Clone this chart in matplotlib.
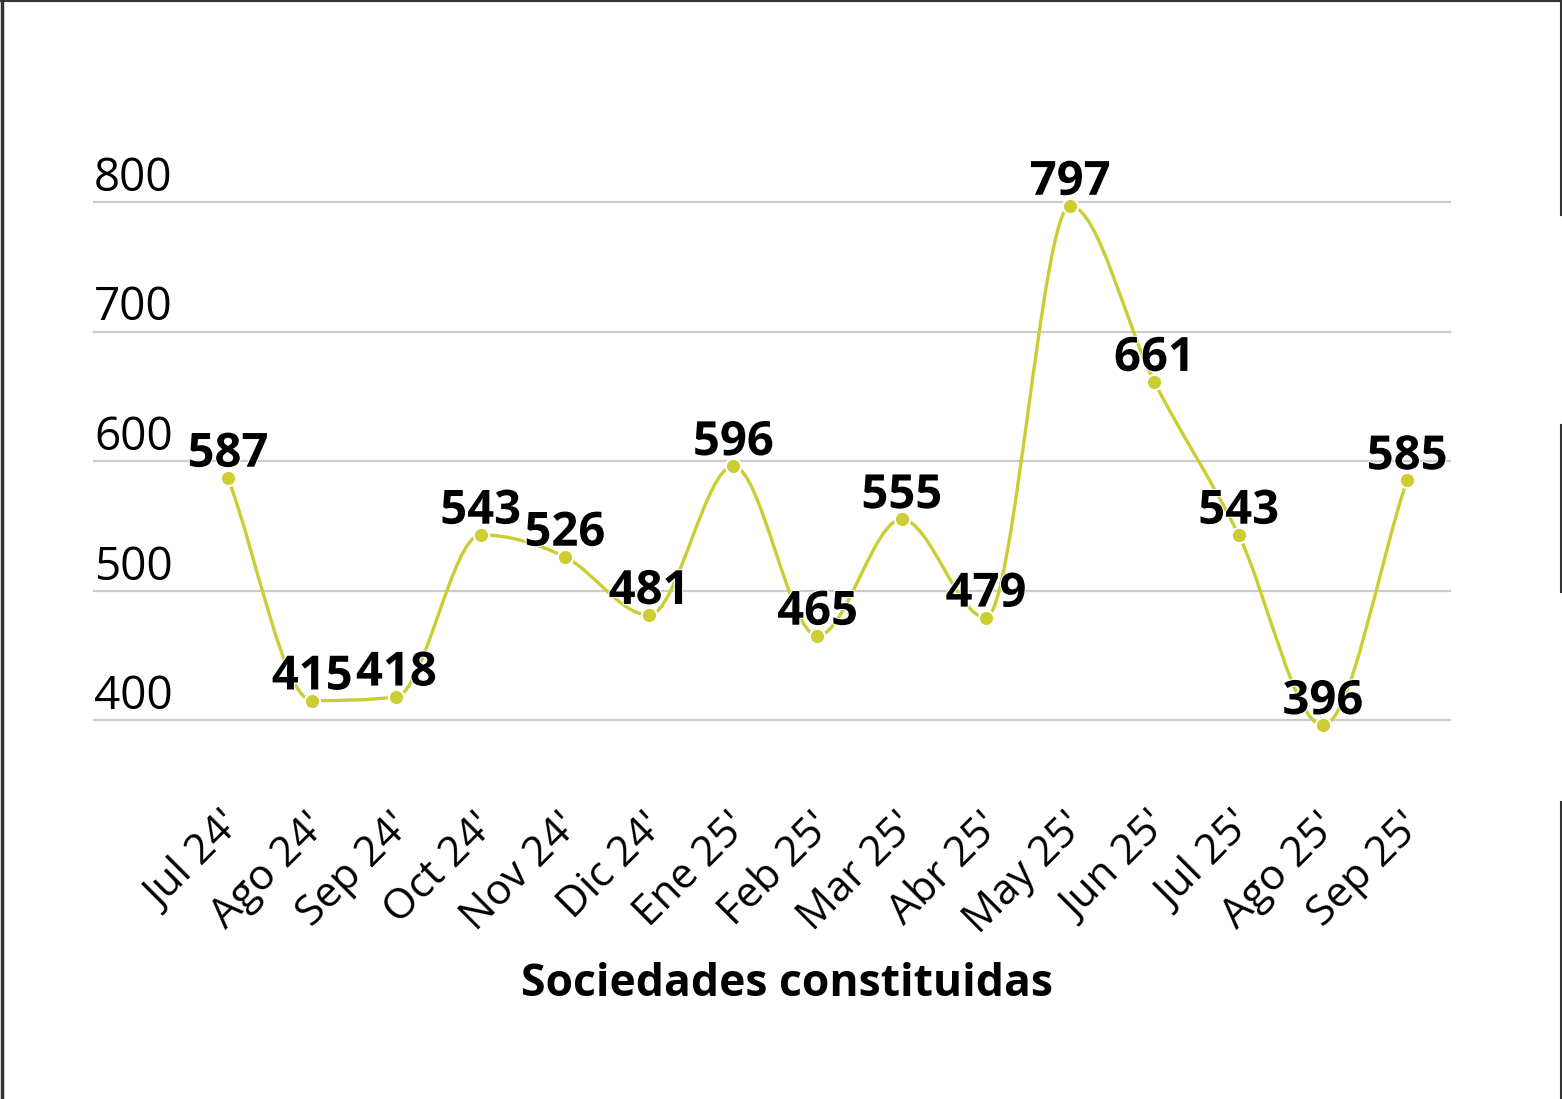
import matplotlib
matplotlib.use("Agg")
import matplotlib.pyplot as plt
import numpy as np
from matplotlib.path import Path
from matplotlib.patches import PathPatch
from matplotlib.lines import Line2D
import matplotlib.transforms as mtransforms
import matplotlib.patheffects as pe

months = ["Jul 24'", "Ago 24'", "Sep 24'", "Oct 24'", "Nov 24'", "Dic 24'",
          "Ene 25'", "Feb 25'", "Mar 25'", "Abr 25'", "May 25'", "Jun 25'",
          "Jul 25'", "Ago 25'", "Sep 25'"]
values = [587, 415, 418, 543, 526, 481, 596, 465, 555, 479, 797, 661, 543, 396, 585]
yticks = [400, 500, 600, 700, 800]
xlabel = "Sociedades constituidas"

LINE = "#cccc33"
FONT = "Open Sans"

W, H = 1562, 1099
fig = plt.figure(figsize=(W / 100, H / 100), dpi=100)
fig.patch.set_facecolor("white")

left, right, top, bottom = 94, 1450, 202, 720
ax = fig.add_axes([left / W, 1 - bottom / H, (right - left) / W, (bottom - top) / H])
ax.set_ylim(400, 800)
ax.set_xlim(-1.59, 14.51)
for s in ax.spines.values():
    s.set_visible(False)
ax.set_yticks([])
ax.tick_params(axis="x", length=0, pad=0)

# gridlines
for yv in yticks:
    ax.axhline(yv, color="#cccccc", lw=1.6, zorder=1, clip_on=False)

# y labels above gridlines, left aligned
ytrans = mtransforms.blended_transform_factory(ax.transAxes, ax.transData)
yoff = mtransforms.offset_copy(ytrans, fig=fig, x=0, y=11, units="dots")
for yv in yticks:
    ax.text(0.0, yv, str(yv), transform=yoff, ha="left", va="baseline",
            fontsize=33, family=FONT, color="black")

# smooth monotone cubic line
x = np.arange(len(values), dtype=float)
y = np.array(values, dtype=float)
n = len(x)
d = np.diff(y) / np.diff(x)
m = np.zeros(n)
m[0], m[-1] = d[0], d[-1]
for k in range(1, n - 1):
    m[k] = 0.0 if d[k - 1] * d[k] <= 0 else (d[k - 1] + d[k]) / 2
for k in range(n - 1):
    if d[k] == 0:
        m[k] = m[k + 1] = 0
        continue
    a, b = m[k] / d[k], m[k + 1] / d[k]
    s2 = a * a + b * b
    if s2 > 9:
        t = 3 / np.sqrt(s2)
        m[k], m[k + 1] = t * a * d[k], t * b * d[k]

verts = [(x[0], y[0])]
codes = [Path.MOVETO]
for k in range(n - 1):
    dx = (x[k + 1] - x[k]) / 3
    verts += [(x[k] + dx, y[k] + m[k] * dx),
              (x[k + 1] - dx, y[k + 1] - m[k + 1] * dx),
              (x[k + 1], y[k + 1])]
    codes += [Path.CURVE4] * 3
path = Path(verts, codes)
ax.add_patch(PathPatch(path, facecolor="none", edgecolor=LINE, lw=2.4,
                       zorder=3, clip_on=False))
ax.plot(x, y, "o", color=LINE, markersize=11, markeredgecolor="white",
        markeredgewidth=1.5, zorder=4, clip_on=False)

for xi, yi in zip(x, y):
    ax.annotate(str(int(yi)), (xi, yi), xytext=(0, 8), textcoords="offset points",
                ha="center", va="baseline", fontsize=34, fontweight="bold",
                family=FONT, color="black", zorder=5, annotation_clip=False,
                path_effects=[pe.withStroke(linewidth=1.5, foreground="white")])

ax.set_xticks(x)
ax.set_xticklabels([])
xoff = mtransforms.offset_copy(ax.get_xaxis_transform(), fig=fig, x=8, y=-100, units="dots")
for xi, lab in zip(x, months):
    ax.text(xi, 0, lab, transform=xoff, rotation=45, rotation_mode="anchor",
            ha="right", va="center", fontsize=30.5, family=FONT, color="black")

fig.text(787 / W, 1 - 984 / H, xlabel, ha="center", va="center",
         fontsize=32, fontweight="bold", family=FONT, color="black")

# frame artifacts
c = "#333333"
fig.add_artist(Line2D([0, 1], [1 - 0.5 / H, 1 - 0.5 / H], color=c, lw=1.5, transform=fig.transFigure))
fig.add_artist(Line2D([1.5 / W, 1.5 / W], [0, 1], color=c, lw=2.5, transform=fig.transFigure))
for y0, y1 in [(0, 215), (425, 592), (802, 1099)]:
    fig.add_artist(Line2D([1560.5 / W, 1560.5 / W], [1 - y0 / H, 1 - y1 / H],
                          color=c, lw=1.5, transform=fig.transFigure))

fig.savefig("out.png", dpi=100, facecolor="white")
